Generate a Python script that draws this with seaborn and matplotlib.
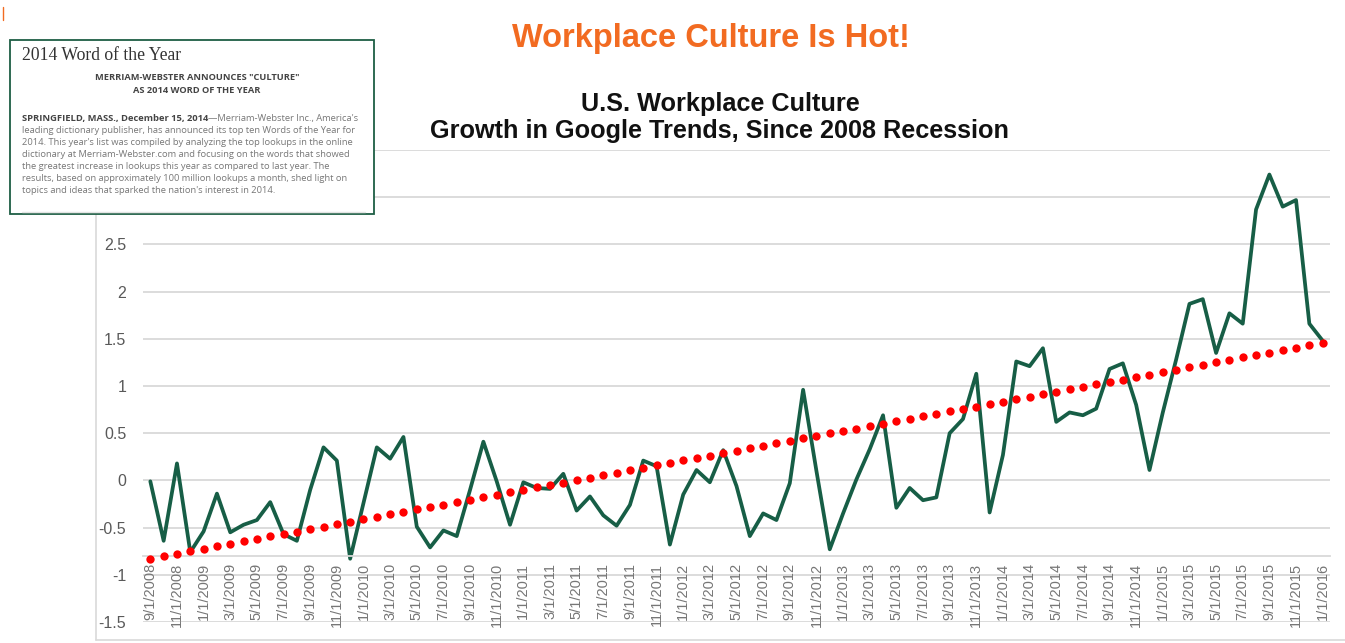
import numpy as np
import pandas as pd
import matplotlib
matplotlib.use("Agg")
import matplotlib.pyplot as plt
import seaborn as sns
from matplotlib.patches import Rectangle
from matplotlib.lines import Line2D
from matplotlib.text import Annotation

sns.set_style("white")
plt.rcParams["font.family"] = ["Liberation Sans", "DejaVu Sans"]

# monthly data, 9/1/2008 .. 1/1/2016
meses = pd.date_range("2008-09-01", "2016-01-01", freq="MS")
rotulos = [f"{d.month}/{d.day}/{d.year}" for d in meses]

valores = [
    -0.01, -0.64, 0.18, -0.76, -0.54, -0.14, -0.55, -0.47, -0.42, -0.23,
    -0.57, -0.64, -0.10, 0.35, 0.21, -0.83, -0.24, 0.35, 0.23, 0.46,
    -0.49, -0.71, -0.53, -0.59, -0.10, 0.41, -0.01, -0.47, -0.02, -0.08,
    -0.09, 0.07, -0.32, -0.17, -0.37, -0.48, -0.26, 0.21, 0.15, -0.68,
    -0.15, 0.11, -0.02, 0.32, -0.06, -0.59, -0.35, -0.42, -0.03, 0.96,
    0.10, -0.73, -0.35, 0.01, 0.33, 0.69, -0.29, -0.08, -0.21, -0.18,
    0.50, 0.65, 1.13, -0.34, 0.27, 1.26, 1.21, 1.40, 0.62, 0.72,
    0.69, 0.76, 1.18, 1.24, 0.80, 0.11, 0.72, 1.28, 1.87, 1.92,
    1.35, 1.77, 1.66, 2.87, 3.24, 2.90, 2.97, 1.66, 1.48,
]

# y labels 3 and 3.5 sit under the text box in the original
ytick_vals = np.arange(-1.5, 3.51, 0.5)
ytick_labels = ["-1.5", "-1", "-0.5", "0", "0.5", "1", "1.5", "2", "2.5", "", ""]

df = pd.DataFrame({"idx": np.arange(len(valores)), "valor": valores})
# linear trendline, like the Excel one
coef = np.polyfit(df["idx"], df["valor"], 1)
df["tendencia"] = np.polyval(coef, df["idx"])

VERDE = "#175E46"
CINZA = "#595959"
GRADE = "#D9D9D9"

fig = plt.figure(figsize=(13.45, 6.43), dpi=100)
ax = fig.add_axes([143 / 1345, 1 - 622 / 643, (1330 - 143) / 1345, (622 - 150) / 643])

for y in ytick_vals:
    ax.axhline(y, color=GRADE, lw=1.3, zorder=0)

sns.lineplot(data=df, x="idx", y="tendencia", ax=ax, color="#FF0000",
             marker="o", markersize=6, markeredgewidth=0, linestyle="", zorder=3)
sns.lineplot(data=df, x="idx", y="valor", ax=ax, color=VERDE, lw=2.7, zorder=2)

ax.set_xlim(-0.55, len(valores) - 0.45)
ax.set_ylim(-1.5, 3.5)
ax.set_yticks(ytick_vals)
ax.set_yticklabels(ytick_labels)
ax.tick_params(axis="y", length=0, pad=12, labelsize=11.5, labelcolor=CINZA)

for s in ["top", "right", "left"]:
    ax.spines[s].set_visible(False)
ax.spines["bottom"].set_position(("data", -0.8))
ax.spines["bottom"].set_color(GRADE)
ax.spines["bottom"].set_linewidth(1.3)

ax.set_xticks(df["idx"][::2])
ax.set_xticklabels(rotulos[::2], rotation=90, va="top", ha="center")
ax.set_xticks(np.arange(-0.5, len(valores), 2), minor=True)
ax.tick_params(axis="x", which="major", length=0, pad=5, labelsize=10.5, labelcolor="#767676")
ax.tick_params(axis="x", which="minor", length=6, width=1.2, color=GRADE, direction="out")
ax.set_xlabel("")
ax.set_ylabel("")
ax.set_facecolor("none")

# chart area border (left and bottom visible)
fig.add_artist(Line2D([96 / 1345, 96 / 1345], [1 - 640 / 643, 1 - 210 / 643], color=GRADE, lw=1.2))
fig.add_artist(Line2D([96 / 1345, 1], [1 - 640 / 643, 1 - 640 / 643], color=GRADE, lw=1.2))
fig.add_artist(Line2D([3 / 1345, 3 / 1345], [1 - 7 / 643, 1 - 20 / 643], color="#F26B21", lw=1))

fig.text(711 / 1345, 1 - 39 / 643, "Workplace Culture Is Hot!", ha="center", va="center",
         fontsize=23.5, fontweight="bold", color="#F26B21")
fig.text(720 / 1345, 1 - 117.5 / 643, "U.S. Workplace Culture\nGrowth in Google Trends, Since 2008 Recession",
         ha="center", va="center", fontsize=18.2, fontweight="bold", color="#111111", linespacing=1.17)

# text box with the Merriam-Webster note
caixa = Rectangle((10 / 1345, 1 - 214 / 643), 364 / 1345, 174 / 643, transform=fig.transFigure,
                  facecolor="white", edgecolor="#1E5E44", lw=1.3, zorder=10)
fig.add_artist(caixa)
fig.add_artist(Line2D([22 / 1345, 365 / 1345], [1 - 212 / 643, 1 - 212 / 643], color="#E4E4E4", lw=1, zorder=11))

fig.text(22 / 1345, 1 - 56 / 643, "2014 Word of the Year", fontsize=12.7, color="#333333",
         family=["Liberation Serif"], va="center", zorder=12)
fig.text(197 / 1345, 1 - 84 / 643, 'MERRIAM-WEBSTER ANNOUNCES "CULTURE"\nAS 2014 WORD OF THE YEAR',
         fontsize=6.7, fontweight="bold", color="#444444", family=["Open Sans"], ha="center",
         va="center", linespacing=1.45, zorder=12)

corpo = [
    "leading dictionary publisher, has announced its top ten Words of the Year for",
    "2014. This year's list was compiled by analyzing the top lookups in the online",
    "dictionary at Merriam-Webster.com and focusing on the words that showed",
    "the greatest increase in lookups this year as compared to last year. The",
    "results, based on approximately 100 million lookups a month, shed light on",
    "topics and ideas that sparked the nation's interest in 2014.",
]
t1 = fig.text(22 / 1345, 1 - 118 / 643, "SPRINGFIELD, MASS., December 15, 2014", fontsize=6.75,
              fontweight="bold", color="#444444", family=["Open Sans"], va="center", zorder=12)
cont = Annotation("\u2014Merriam-Webster Inc., America's", xy=(1, 0.5), xycoords=t1, va="center",
                  fontsize=6.75, color="#777777", family=["Open Sans"], zorder=12)
fig.add_artist(cont)
for i, linha in enumerate(corpo):
    fig.text(22 / 1345, 1 - (130.2 + 12.1 * i) / 643, linha, fontsize=6.75, color="#777777",
             family=["Open Sans"], va="center", zorder=12)

fig.savefig("out.png", dpi=100)
